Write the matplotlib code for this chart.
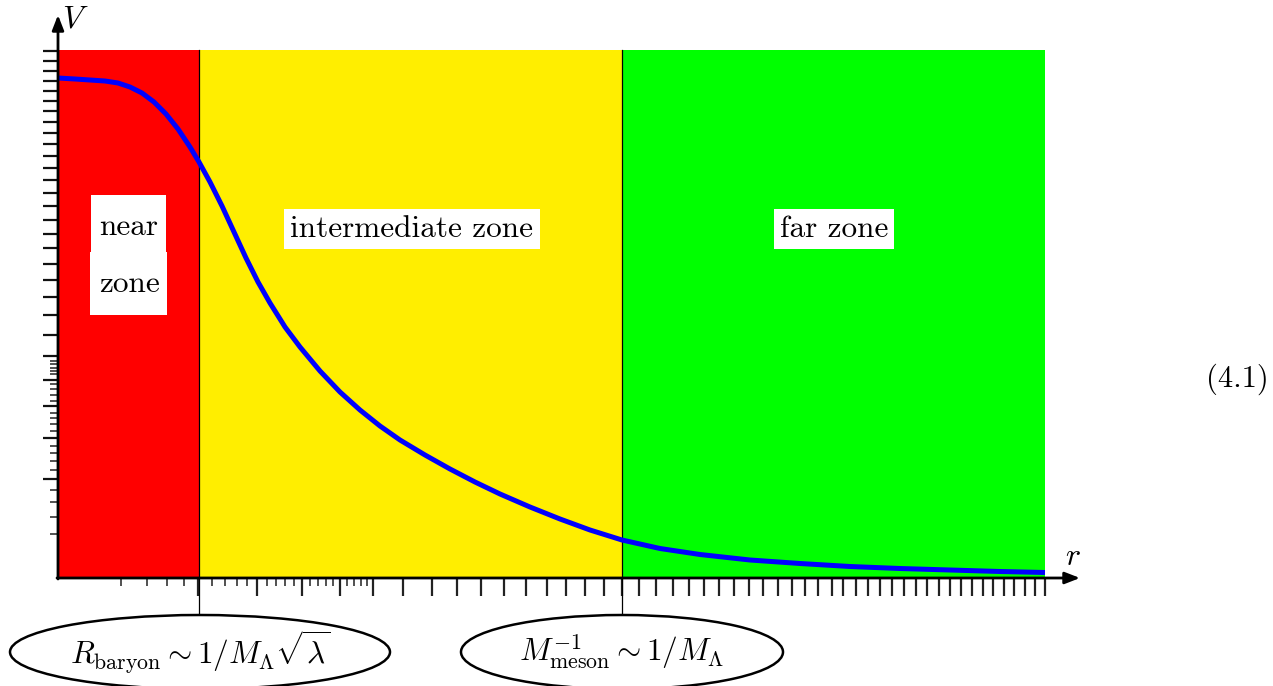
import matplotlib
matplotlib.use("Agg")
import matplotlib.pyplot as plt
from matplotlib.patches import Ellipse, Rectangle

plt.rcParams['mathtext.fontset'] = 'cm'
plt.rcParams['font.family'] = 'cmr10'
plt.rcParams['axes.unicode_minus'] = False

# zone edges along r (axis units)
zone_edges = [0, 141, 564, 987]
zone_colors = ['#ff0000', '#ffee00', '#00ff00']
zone_labels = ['intermediate zone', 'far zone']

# potential curve
r_vals = [0, 17, 32, 47, 60, 72, 84, 96, 108, 120, 132, 141, 152, 164, 176,
          188, 200, 212, 227, 242, 262, 282, 302, 322, 342, 367, 392, 417,
          442, 472, 502, 532, 564, 602, 642, 692, 742, 792, 842, 892, 942, 987]
v_vals = [500, 499, 498, 497, 495, 491, 485, 476, 464, 449, 431, 416, 396,
          372, 346, 320, 296, 275, 251, 231, 207, 186, 168, 152, 138, 123,
          109, 96, 84, 71, 59, 48, 38, 29.5, 23.5, 18, 14.5, 11.5, 9.5, 8, 6.5, 5.5]

# tick positions (irregular, as in the source figure)
x_major = [140.3, 199.3, 244, 282, 314.7, 345.3, 373.5, 398.7, 423, 446, 468,
           488.7, 508, 527, 546, 564.3, 581.3, 598, 614.7, 631, 646, 661.3,
           676.3, 691, 705.3, 719.7, 733.7, 747, 760.3, 773.5, 785.3, 798,
           810.3, 822, 834.3, 846, 857.7, 869.3, 880.7, 892, 903, 913.7,
           924.7, 935.3, 946, 956.3, 967, 977, 987]
x_minor = [62.7, 89, 108.7, 126, 154.3, 167, 178.7, 188.7, 208.7, 218, 227,
           236, 252, 260.3, 268, 275.3, 289.3, 296, 302.7, 308.7]
y_major = [527.3, 517, 507, 497, 487.3, 477.3, 467, 455.7, 444.7, 433.7,
           422.3, 410, 398, 384.7, 372, 358, 344, 329.7, 313.7, 298, 281.3,
           263, 243, 222, 198, 171.7, 140.3, 98.7]
y_minor = [217.3, 213.7, 210.3, 207, 203.7, 193.7, 188.7, 183, 177.3, 165.3,
           159.7, 153.7, 147, 132.3, 124.7, 117, 108, 88, 76.3, 61.3, 44]

fig = plt.figure(figsize=(12.73, 6.86), dpi=100)
ax = fig.add_axes([58 / 1273, 108 / 686, 987 / 1273, 528 / 686])
ax.set_xlim(0, 987)
ax.set_ylim(0, 528)
for s in ax.spines.values():
    s.set_visible(False)

# coloured zones
for i in range(3):
    ax.axvspan(zone_edges[i], zone_edges[i + 1], color=zone_colors[i], zorder=0, lw=0)

# zone borders, running down to the ellipses
for xb in zone_edges[1:3]:
    ax.plot([xb, xb], [528, -36], color='black', lw=0.9, clip_on=False, zorder=2)

ax.plot(r_vals, v_vals, color='#0000ff', lw=3.6, zorder=3,
        solid_capstyle='butt', solid_joinstyle='round')

# ticks
ax.set_xticks(x_major)
ax.set_xticks(x_minor, minor=True)
ax.set_yticks(y_major)
ax.set_yticks(y_minor, minor=True)
ax.set_xticklabels([])
ax.set_yticklabels([])
ax.set_xticklabels([], minor=True)
ax.set_yticklabels([], minor=True)
ax.tick_params(axis='x', which='major', direction='out', length=13, width=1.6, color='#222222')
ax.tick_params(axis='x', which='minor', direction='out', length=6, width=1.2, color='#333333')
ax.tick_params(axis='y', which='major', direction='out', length=11, width=1.6, color='#111111')
ax.tick_params(axis='y', which='minor', direction='out', length=6, width=1.2, color='#333333')

# axes with arrow heads
arrow = dict(arrowstyle='-|>,head_length=0.9,head_width=0.35', lw=2, color='black',
             shrinkA=0, shrinkB=0)
ax.annotate('', xy=(0, 563), xytext=(0, -1), arrowprops=arrow, annotation_clip=False, zorder=5)
ax.annotate('', xy=(1022, 0), xytext=(-1, 0), arrowprops=arrow, annotation_clip=False, zorder=5)
ax.text(4, 558, '$V$', fontsize=23, ha='left', va='center', clip_on=False)
ax.text(1015, 21, '$r$', fontsize=23, ha='center', va='center', clip_on=False)

# near zone label: two stacked white boxes
ax.add_patch(Rectangle((33, 325), 75, 58, fc='white', ec='none', zorder=4))
ax.add_patch(Rectangle((32, 263), 77, 63, fc='white', ec='none', zorder=4))
ax.text(71, 351, 'near', fontsize=22.5, ha='center', va='center', zorder=5)
ax.text(71, 294, 'zone', fontsize=22.5, ha='center', va='center', zorder=5)

box = dict(boxstyle='square,pad=0.2', fc='white', ec='none')
ax.text(354, 349, zone_labels[0], fontsize=22.5, ha='center', va='center', zorder=4, bbox=box)
ax.text(776, 349, zone_labels[1], fontsize=22.5, ha='center', va='center', zorder=4, bbox=box)

# scale labels in ellipses
for cx, w, lab in [(142, 380, r'$R_{\rm baryon} \sim 1/M_\Lambda\sqrt{\lambda}$'),
                   (564, 322, r'$M^{-1}_{\rm meson} \sim 1/M_\Lambda$')]:
    ax.add_patch(Ellipse((cx, -74), w, 74, fc='white', ec='black', lw=1.8, clip_on=False, zorder=4))
    ax.text(cx, -74, lab, fontsize=22.5, ha='center', va='center', zorder=5, clip_on=False)

fig.text(1237 / 1273, 1 - 379 / 686, '(4.1)', fontsize=22, ha='center', va='center')

fig.savefig('out.png', dpi=100)
